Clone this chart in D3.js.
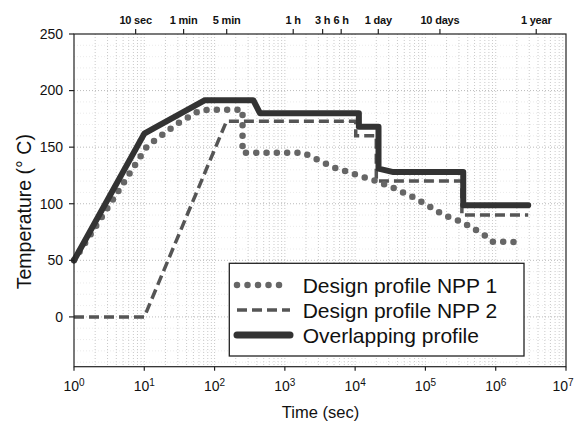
<!DOCTYPE html>
<html>
<head>
<meta charset="utf-8">
<script src="https://cdn.jsdelivr.net/npm/d3@7"></script>
<style>
  body { margin: 0; background: #fff; }
  text { font-family: "Liberation Sans", Arial, sans-serif; }
</style>
</head>
<body>
<svg id="chart" width="575" height="426"></svg>
<script>
// ---- data ----
const seriesNames = ["Design profile NPP 1", "Design profile NPP 2", "Overlapping profile"];
const npp1 = [[1,50],[11,151],[30,171],[60,182],[80,183],[250,183],[250,145],[1800,145],[2500,141],[5000,132],[10000,126],[20000,120],[35000,114],[66000,106],[92000,101],[130000,95.6],[180000,90],[330000,84],[480000,78],[650000,73.6],[900000,66.5],[2500000,66]];
const npp2 = [[1,0],[10,0],[148,173],[10200,173],[10200,160],[20000,160],[20000,120],[330000,120],[330000,90],[2900000,90]];
const overlap = [[1,50],[10,162],[14,167],[73,191.5],[355,191.5],[442,180],[11300,180],[11300,168],[21500,168],[21500,131],[35000,128],[345000,128],[345000,98.6],[2900000,98.6]];
const yTicks = [0,50,100,150,200,250];
const xTicks = [1,10,100,1000,1e4,1e5,1e6,1e7];
const topTickValues = [10,60,300,3600,10800,21600,86400,864000,31536000];
const topTickLabels = ["10 sec","1 min","5 min","1 h","3 h","6 h","1 day","10 days","1 year"];

// ---- layout ----
const svg = d3.select("#chart");
const L = 74, R = 566, T = 34, B = 366.7;
const x = d3.scaleLog().domain([1,1e7]).range([L,R]);
const y = d3.scaleLinear().domain([-44,250]).range([B,T]);
const xTop = d3.scaleLog().domain([1,1e7]).range([L, L + 0.877*(R-L)]);

// grid
const g = svg.append("g");
const minor = [];
for (let e = 0; e < 7; e++) for (let k = 1; k <= 9; k++) minor.push(k*Math.pow(10,e));
g.selectAll(".vg").data(minor.filter(v => v > 1)).enter().append("line")
  .attr("x1", d => x(d)).attr("x2", d => x(d)).attr("y1", T).attr("y2", B)
  .attr("stroke", "#bbb").attr("stroke-width", 0.8).attr("stroke-dasharray", "1 2");
const hminor = d3.range(-40, 250, 10);
g.selectAll(".hg").data(hminor).enter().append("line")
  .attr("x1", L).attr("x2", R).attr("y1", d => y(d)).attr("y2", d => y(d))
  .attr("stroke", d => d % 50 === 0 ? "#aaa" : "#e6e6e6").attr("stroke-width", 0.8).attr("stroke-dasharray", "1 2");

// lines
const line = d3.line().x(d => x(d[0])).y(d => y(d[1]));
svg.append("path").datum(npp2).attr("d", line).attr("fill","none")
  .attr("stroke","#555").attr("stroke-width",3.5).attr("stroke-dasharray","10 5");
svg.append("path").datum(npp1).attr("d", line).attr("fill","none")
  .attr("stroke","#666").attr("stroke-width",6.5).attr("stroke-linecap","round")
  .attr("stroke-dasharray","0 10.3");
svg.append("path").datum(overlap).attr("d", line).attr("fill","none")
  .attr("stroke","#333").attr("stroke-width",6).attr("stroke-linejoin","round").attr("stroke-linecap","round");

// frame
svg.append("rect").attr("x",L).attr("y",T).attr("width",R-L).attr("height",B-T)
  .attr("fill","none").attr("stroke","#222").attr("stroke-width",1.2);

// y axis
const yg = svg.append("g");
yg.selectAll("line").data(yTicks).enter().append("line")
  .attr("x1", L-5).attr("x2", L).attr("y1", d => y(d)).attr("y2", d => y(d))
  .attr("stroke","#222").attr("stroke-width",1.2);
yg.selectAll("text").data(yTicks).enter().append("text")
  .attr("x", L-11).attr("y", d => y(d)).attr("dy","0.35em").attr("text-anchor","end")
  .attr("font-size",14).attr("fill","#111").text(d => d);

// x axis bottom
const xg = svg.append("g");
xg.selectAll("line").data(xTicks).enter().append("line")
  .attr("x1", d => x(d)).attr("x2", d => x(d)).attr("y1", B).attr("y2", B+4)
  .attr("stroke","#222").attr("stroke-width",1.2);
const xt = xg.selectAll("text").data(xTicks).enter().append("text")
  .attr("x", d => d === 1e7 ? x(d) - 3 : x(d)).attr("y", B+24).attr("text-anchor","middle").attr("fill","#111");
xt.append("tspan").attr("font-size",14).text("10");
xt.append("tspan").attr("font-size",10).attr("dy",-5).text(d => Math.round(Math.log10(d)));

// top axis
const tg = svg.append("g");
tg.selectAll("line").data(topTickValues).enter().append("line")
  .attr("x1", d => xTop(d)).attr("x2", d => xTop(d)).attr("y1", T-5).attr("y2", T)
  .attr("stroke","#222").attr("stroke-width",1.2);
tg.selectAll("text").data(topTickValues).enter().append("text")
  .attr("x", d => xTop(d)).attr("y", T-10).attr("text-anchor","middle")
  .attr("font-size",11).attr("fill","#111").attr("font-weight","bold").attr("letter-spacing","-0.2")
  .text((d,i) => topTickLabels[i]);

// axis titles
svg.append("text").attr("x", 320.5).attr("y", 418).attr("text-anchor","middle")
  .attr("font-size",16.5).attr("fill","#111").text("Time (sec)");
svg.append("text").attr("transform","translate(31,211.7) rotate(-90)").attr("text-anchor","middle")
  .attr("font-size",19.5).attr("fill","#111").text("Temperature (° C)");

// legend
const lg = svg.append("g");
lg.append("rect").attr("x",229.3).attr("y",263.3).attr("width",294.7).attr("height",92.7)
  .attr("fill","#fff").attr("stroke","#222").attr("stroke-width",1.3);
const rows = [285, 310, 335];
const styles = [
  {stroke:"#666", w:6.5, dash:"0 10.5", cap:"round"},
  {stroke:"#555", w:3.5, dash:"10 5", cap:"butt"},
  {stroke:"#333", w:7, dash:null, cap:"round"}
];
seriesNames.forEach((name,i) => {
  const s = styles[i];
  const p = lg.append("line").attr("x1",237).attr("x2", i===0 ? 281 : 290).attr("y1",rows[i]).attr("y2",rows[i])
    .attr("stroke",s.stroke).attr("stroke-width",s.w).attr("stroke-linecap",s.cap);
  if (s.dash) p.attr("stroke-dasharray", s.dash);
  lg.append("text").attr("x",302.7).attr("y",rows[i]).attr("dy","0.36em")
    .attr("font-size",21).attr("fill","#111").text(name);
});
</script>
</body>
</html>
